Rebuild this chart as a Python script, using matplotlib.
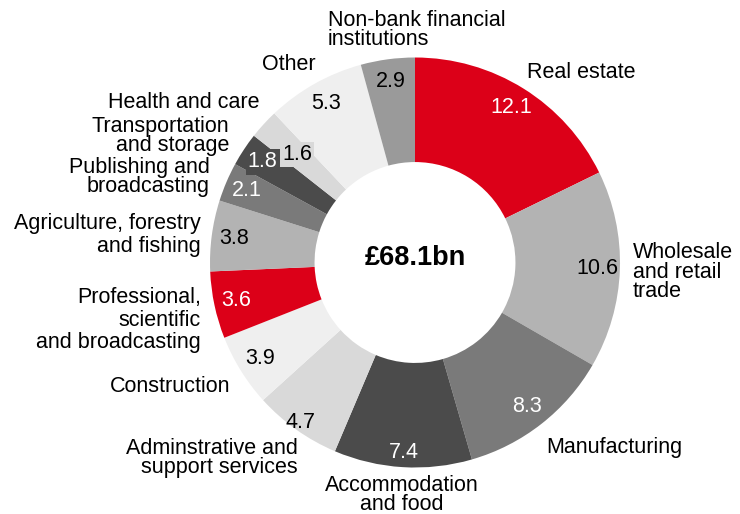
import matplotlib.pyplot as plt
import numpy as np

plt.rcParams['font.family'] = ['Liberation Sans', 'DejaVu Sans']

# ---- data (clockwise from 12 o'clock) ----
sectors = ['Real estate', 'Wholesale\nand retail\ntrade', 'Manufacturing',
           'Accommodation\nand food', 'Adminstrative and\nsupport services',
           'Construction', 'Professional,\nscientific\nand broadcasting',
           'Agriculture, forestry\nand fishing', 'Publishing and\nbroadcasting',
           'Transportation\nand storage', 'Health and care', 'Other',
           'Non-bank financial\ninstitutions']
values = [12.1, 10.6, 8.3, 7.4, 4.7, 3.9, 3.6, 3.8, 2.1, 1.8, 1.6, 5.3, 2.9]
total_label = '£68.1bn'

RED = '#DC0018'
colors = [RED, '#b3b3b3', '#7a7a7a', '#4b4b4b', '#d9d9d9', '#efefef', RED,
          '#b3b3b3', '#7a7a7a', '#4b4b4b', '#d9d9d9', '#efefef', '#9a9a9a']
value_colors = ['white', 'black', 'white', 'white', 'black', 'black', 'white',
                'black', 'white', 'white', 'black', 'black', 'black']

W, H = 740, 514
CX, CY, R = 415, 262.5, 205          # donut centre and outer radius, pixels

fig = plt.figure(figsize=(W / 100, H / 100), dpi=100)
ax = fig.add_axes([(CX - R) / W, (H - CY - R) / H, 2 * R / W, 2 * R / H])

wedges, _ = ax.pie(values, colors=colors, startangle=90, counterclock=False,
                   radius=1, wedgeprops=dict(width=0.51, edgecolor='none'))
ax.set_xlim(-1, 1)
ax.set_ylim(-1, 1)
ax.set_aspect('equal')
ax.axis('off')

# value labels inside each wedge
label_r = {3: 0.93, 4: 0.96, 10: 0.78}
boxed = {9: '#4b4b4b', 10: '#d9d9d9'}
for i, (w, v) in enumerate(zip(wedges, values)):
    mid = np.deg2rad((w.theta1 + w.theta2) / 2)
    r = label_r.get(i, 0.89)
    kw = {}
    if i in boxed:
        kw['bbox'] = dict(boxstyle='square,pad=0.1', fc=boxed[i], ec='none')
    ax.text(r * np.cos(mid), r * np.sin(mid), f'{v}', ha='center', va='center',
            fontsize=15.5, color=value_colors[i], **kw)

ax.text(0, 0.02, total_label, ha='center', va='center', fontsize=19.5,
        fontweight='bold', color='black')

# sector names around the ring: (x, y, ha, linespacing) in pixels
name_pos = [
    (527, 72, 'left', 0.9),
    (633, 272, 'left', 0.93),
    (546, 447, 'left', 0.9),
    (402, 495, 'center', 0.87),
    (298, 458, 'right', 0.87),
    (230, 387, 'right', 0.9),
    (201, 320, 'right', 1.07),
    (201, 235, 'right', 1.07),
    (210, 177, 'right', 0.9),
    (229, 136, 'right', 0.92),
    (259, 103, 'right', 0.9),
    (289, 65, 'center', 0.9),
    (328, 30, 'left', 0.87),
]
for name, (px, py, ha, ls) in zip(sectors, name_pos):
    fig.text(px / W, 1 - py / H, name, ha=ha, va='center', fontsize=15.5,
             color='black', linespacing=ls, multialignment=ha)

fig.savefig('out.png', dpi=100, facecolor='white')
